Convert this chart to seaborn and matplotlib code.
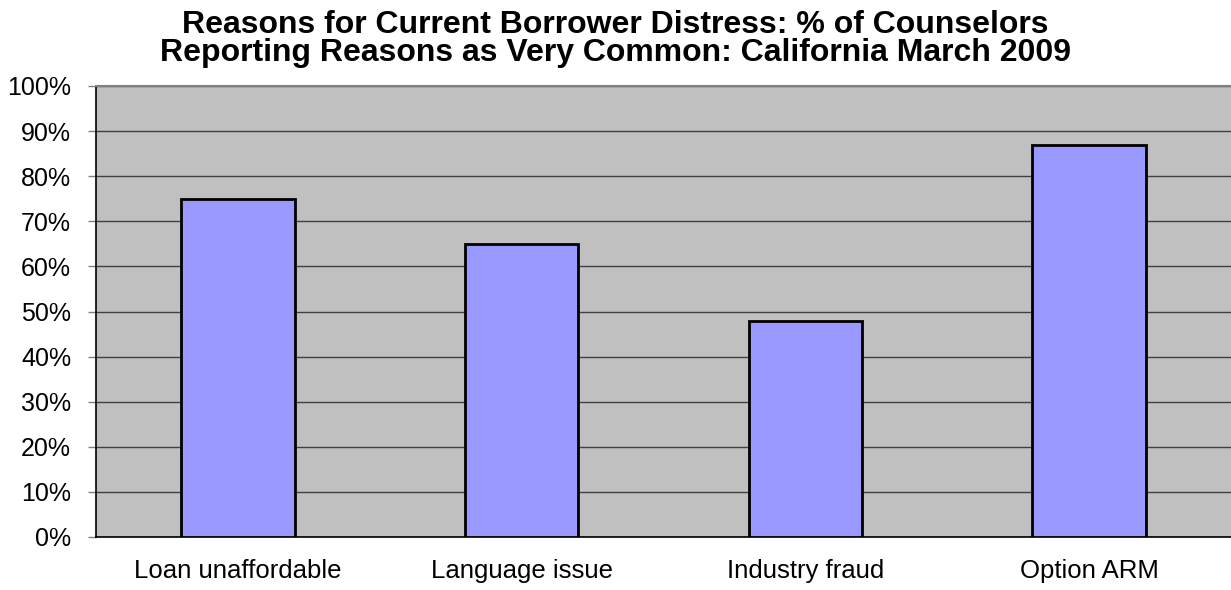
import matplotlib
matplotlib.use("Agg")
import matplotlib.pyplot as plt
import seaborn as sns
import pandas as pd
from matplotlib.ticker import FuncFormatter, FixedLocator

# Datos del gráfico
categorias = ["Loan unaffordable", "Language issue", "Industry fraud", "Option ARM"]
valores = [75, 65, 48, 87]
titulo = "Reasons for Current Borrower Distress: % of Counselors\nReporting Reasons as Very Common: California March 2009"

df = pd.DataFrame({"razon": categorias, "pct": valores})

sns.set_style("white")
plt.rcParams["font.family"] = ["Liberation Sans", "DejaVu Sans"]
plt.rcParams["text.color"] = "black"
plt.rcParams["xtick.color"] = "black"
plt.rcParams["ytick.color"] = "black"

fig = plt.figure(figsize=(12.31, 5.90), dpi=100)
ax = fig.add_axes([96 / 1231, 53 / 590, 1 - 96 / 1231, 451 / 590])
ax.set_facecolor("#C0C0C0")

sns.barplot(data=df, x="razon", y="pct", color="#9999FF", width=0.4,
            edgecolor="black", linewidth=2, saturation=1, ax=ax, zorder=3)

ax.set_ylim(0, 100)
ax.set_xlim(-0.5, 3.5)
ax.set_yticks(range(0, 101, 10))
ax.yaxis.set_major_formatter(FuncFormatter(lambda v, p: f"{v:.0f}%"))
ax.grid(axis="y", color="#404040", linewidth=1, zorder=1)
ax.set_axisbelow(True)

# marcas del eje x entre categorias
ax.xaxis.set_minor_locator(FixedLocator([-0.5, 0.5, 1.5, 2.5, 3.5]))
ax.tick_params(axis="x", which="major", length=0, pad=16, labelsize=18.5, labelcolor="black")
ax.tick_params(axis="x", which="minor", length=6, width=1, color="#808080")
ax.tick_params(axis="y", length=6, width=1, color="#808080", labelsize=18, pad=12,
               left=True, labelcolor="black")

ax.set_xlabel("")
ax.set_ylabel("")
for s in ["left", "bottom"]:
    ax.spines[s].set_color("black")
    ax.spines[s].set_linewidth(1.2)
ax.spines["top"].set_color("#808080")
ax.spines["top"].set_linewidth(1.5)
ax.spines["right"].set_visible(False)

fig.suptitle(titulo, fontsize=23, fontweight="bold", y=0.983, linespacing=0.92,
             color="black")

fig.savefig("out.png", dpi=100)
